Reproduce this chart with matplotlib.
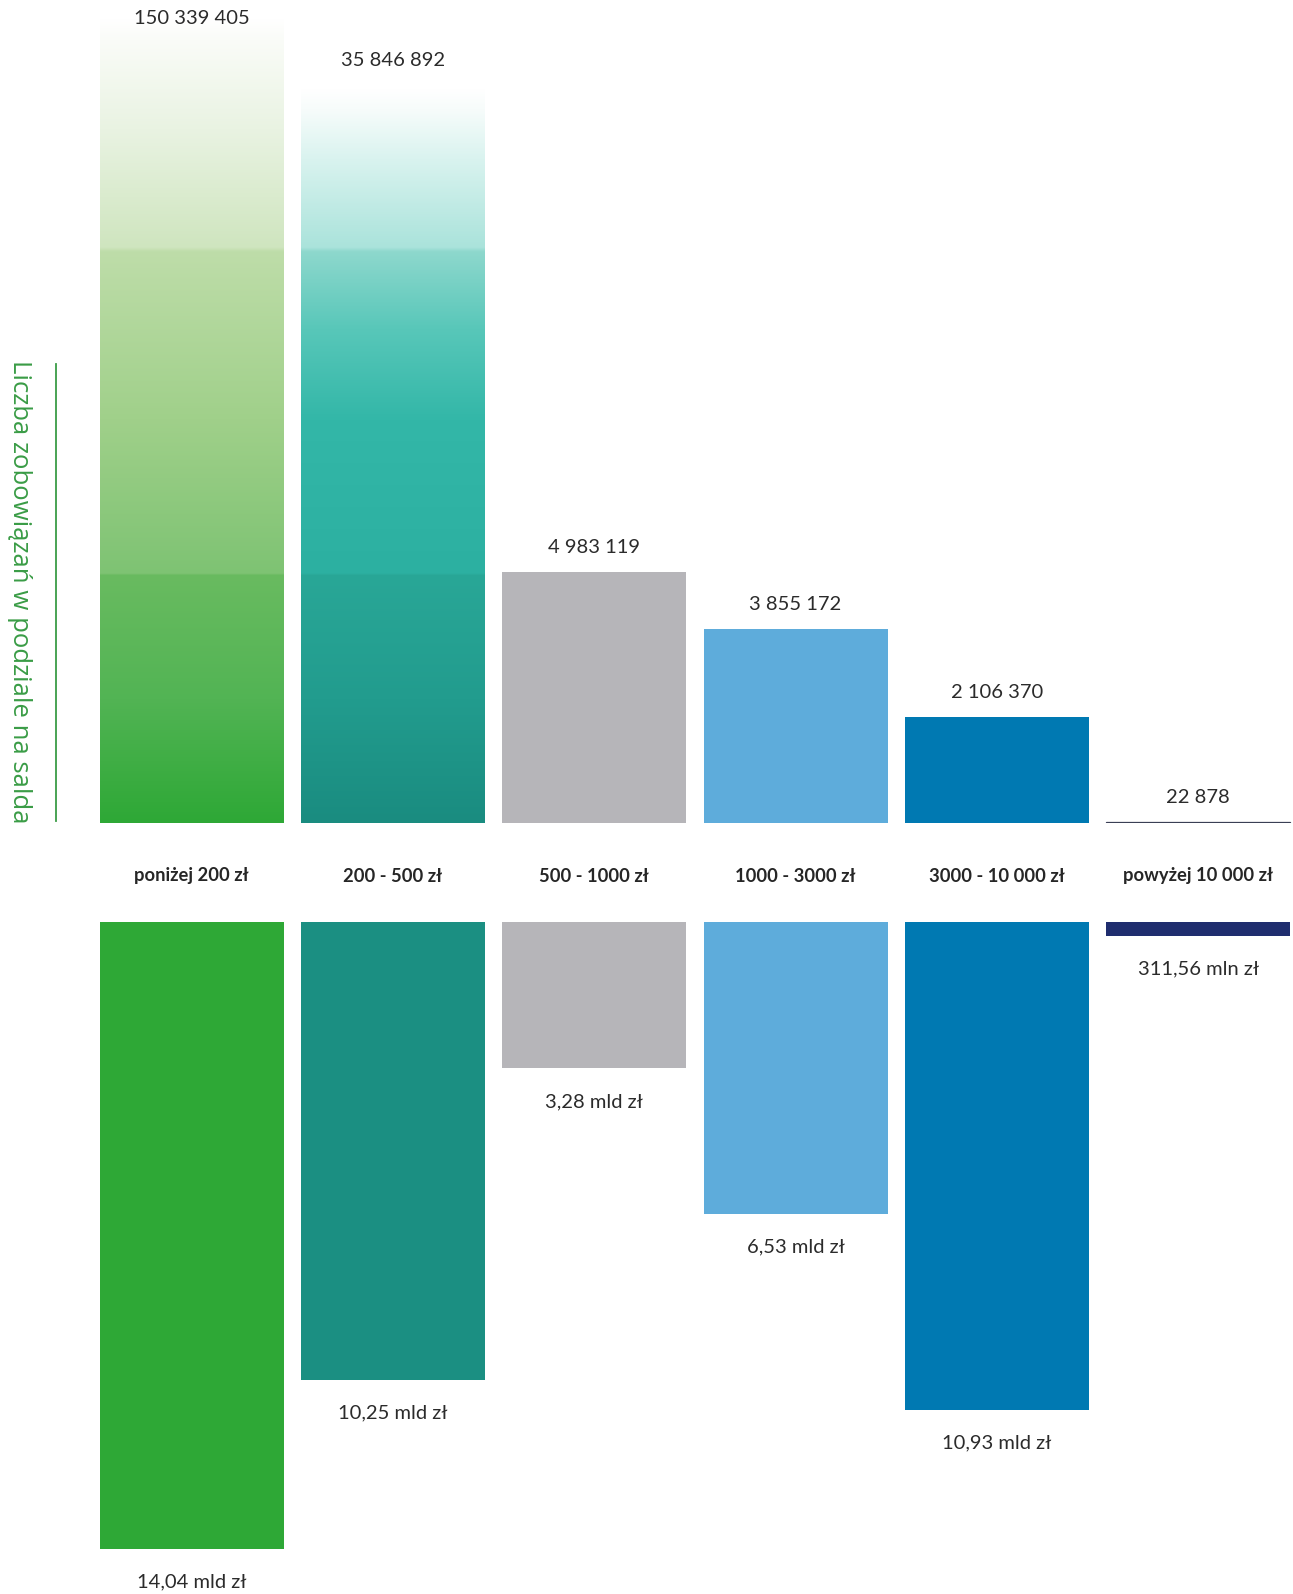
import numpy as np
import matplotlib
matplotlib.use("Agg")
import matplotlib.pyplot as plt
from matplotlib.colors import to_rgb
from matplotlib.lines import Line2D

# ---- data ----
categories = ["poniżej 200 zł", "200 - 500 zł", "500 - 1000 zł",
              "1000 - 3000 zł", "3000 - 10 000 zł", "powyżej 10 000 zł"]
counts = [150339405, 35846892, 4983119, 3855172, 2106370, 22878]
count_labels = ["150 339 405", "35 846 892", "4 983 119", "3 855 172", "2 106 370", "22 878"]
amounts_mld = [14.04, 10.25, 3.28, 6.53, 10.93, 0.31156]
amount_labels = ["14,04 mld zł", "10,25 mld zł", "3,28 mld zł", "6,53 mld zł", "10,93 mld zł", "311,56 mln zł"]
ylabel_text = "Liczba zobowiązań w podziale na salda"

colors = ["#2ea836", "#1b8f82", "#b6b5b9", "#5eacdb", "#0079b2", "#1f2d6e"]

W, H = 1293, 1594
DPI = 100
fig = plt.figure(figsize=(W / DPI, H / DPI), dpi=DPI)
fig.patch.set_facecolor("white")

def fr(x0, y0, x1, y1):
    return [x0 / W, 1 - y1 / H, (x1 - x0) / W, (y1 - y0) / H]

pitch = 201.3
ax_left = 91.0
x_span = (W - ax_left) / pitch
base_top = 823.4
base_bot = 922.0
px_per_count = 1 / 19840.0
px_per_mld = 44.65

x = np.arange(len(categories))
bw = 184 / pitch

VAL_FONT = dict(fontsize=14.5, family="Lato", fontweight="normal", color="#2b2b2b")

# ---- top axis: counts ----
axt = fig.add_axes(fr(ax_left, 0, W, base_top))
axt.set_xlim(-0.5, -0.5 + x_span)
axt.set_ylim(0, base_top / px_per_count)
axt.axis("off")

bars_t = axt.bar(x, counts, width=bw, color=colors, linewidth=0)
bars_t[5].set_edgecolor("#3a3f55")
bars_t[5].set_linewidth(0.9)

def frac(p):
    return (base_top - p) / base_top

grad_stops = {
    0: [(823, "#2ea836"), (700, "#52b454"), (576, "#69bb60"), (574, "#7ec373"),
        (420, "#a0d08a"), (252, "#bedda9"), (248, "#cfe5bf"), (130, "#e9f3e2"),
        (40, "#fafcf8"), (20, "#ffffff"), (0, "#ffffff")],
    1: [(823, "#1a8c80"), (700, "#229c8e"), (576, "#29a797"), (574, "#2cb0a1"),
        (420, "#33b7a8"), (330, "#58c7b9"), (252, "#8ed8cd"), (248, "#aae3db"),
        (160, "#d9f3ef"), (110, "#f7fcfb"), (90, "#ffffff"), (0, "#ffffff")],
}
ymax = axt.get_ylim()[1]
n = 800
yy = np.linspace(0, 1, n)
for i, stops in grad_stops.items():
    fs = np.array([frac(p) for p, _ in stops])
    cs = np.array([to_rgb(c) for _, c in stops])
    order = np.argsort(fs)
    fs, cs = fs[order], cs[order]
    img = np.zeros((n, 1, 3))
    for k in range(3):
        img[:, 0, k] = np.interp(yy, fs, cs[:, k])
    b = bars_t[i]
    b.set_facecolor("none")
    im = axt.imshow(img, extent=[b.get_x(), b.get_x() + b.get_width(), 0, ymax],
                    origin="lower", aspect="auto", interpolation="bilinear", zorder=1)
    im.set_clip_path(b)

label_top_px = {0: 18.0, 1: 61.0}
for i in x:
    if counts[i] * px_per_count > base_top:
        yl = frac(label_top_px[i]) * ymax
        axt.text(i, yl, count_labels[i], ha="center", va="center", **VAL_FONT)
    else:
        axt.annotate(count_labels[i], (i, counts[i]), xytext=(0, 18), textcoords="offset points",
                     ha="center", va="center", **VAL_FONT)

# ---- bottom axis: amounts ----
axb = fig.add_axes(fr(ax_left, base_bot, W, H))
axb.set_xlim(-0.5, -0.5 + x_span)
axb.set_ylim((H - base_bot) / px_per_mld, 0)
axb.axis("off")
axb.bar(x, amounts_mld, width=bw, color=colors, linewidth=0)
for i in x:
    axb.annotate(amount_labels[i], (i, amounts_mld[i]), xytext=(0, -24), textcoords="offset points",
                 ha="center", va="center", **VAL_FONT)

# ---- category labels ----
for i in x:
    cx = (ax_left + (i + 0.5) * pitch) / W
    fig.text(cx, 1 - 876 / H, categories[i], ha="center", va="center",
             fontsize=13.2, family="Lato", fontweight="bold", color="#262626")

# ---- side label ----
fig.text(19 / W, 1 - 592 / H, ylabel_text, rotation=270, ha="center", va="center",
         fontsize=18.5, family="Open Sans", color="#3a9c46")
fig.add_artist(Line2D([56 / W, 56 / W], [1 - 364 / H, 1 - 821 / H],
                      color="#3a9c46", linewidth=1.3, transform=fig.transFigure))

fig.savefig("out.png", dpi=DPI, facecolor="white")
